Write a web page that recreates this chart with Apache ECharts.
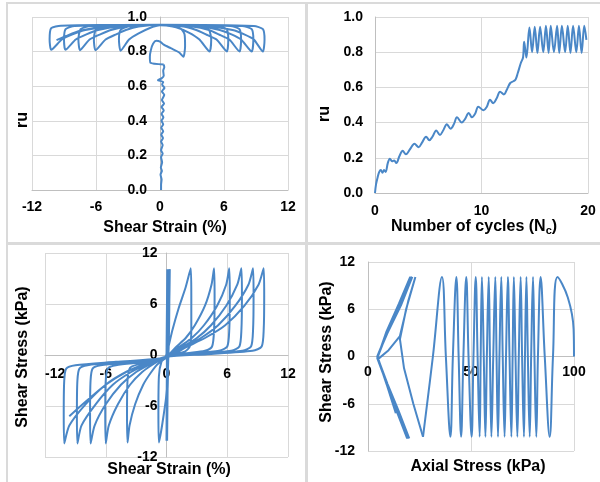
<!DOCTYPE html>
<html>
<head>
<meta charset="utf-8">
<script src="https://cdn.jsdelivr.net/npm/echarts@6/dist/echarts.min.js"></script>
<style>html,body{margin:0;padding:0;background:#fff;}#c{width:600px;height:482px;}</style>
</head>
<body>
<div id="c"></div>
<script>
// ---------- tick labels ----------
const ruTicks = ['0.0','0.2','0.4','0.6','0.8','1.0'];
const strainTicks = ['-12','-6','0','6','12'];
const stressTicks = ['-12','-6','0','6','12'];
const cycleTicks = ['0','10','20'];
const axialTicks = ['0','50','100'];

// ---------- panel 1: ru vs shear strain (%) ----------
const ruStrainStem = [
 [0.1,0],[0.1,0.03],[0.15,0.06],[0.05,0.09],[0.18,0.11],[0.08,0.13],[0.2,0.16],[0.1,0.19],
 [0.25,0.21],[0.1,0.23],[0.25,0.26],[0.1,0.28],[0.28,0.30],[0.12,0.32],[0.3,0.34],[0.12,0.36],
 [0.3,0.38],[0.14,0.40],[0.32,0.42],[0.15,0.44],[0.35,0.46],[0.15,0.48],[0.38,0.50],[0.18,0.52],
 [0.4,0.55],[0.18,0.57],[0.42,0.59],[0.2,0.61],[0.3,0.625],[-0.2,0.635],[0.15,0.645],[0.35,0.66],
 [0.3,0.69],[0.4,0.71],[0.35,0.725]
];
const ruStrainLiq = [
 [0.35,0.725],[-0.9,0.735],[-0.95,0.77],[-0.85,0.81],[-0.65,0.845],[-0.35,0.862],[0.0,0.858],
 [0.35,0.84],[1.0,0.82],[1.8,0.795],[2.2,0.77],
 [2.35,0.83],[2.3,0.9],[2.0,0.93],[1.2,0.945],[0,0.952],[-1.0,0.935],[-2.0,0.905],[-2.9,0.87],[-3.7,0.805],
 [-3.85,0.87],[-3.7,0.925],[-3.0,0.945],[0,0.955],[1.5,0.94],[2.7,0.91],[3.7,0.87],[4.65,0.80],
 [4.8,0.87],[4.6,0.925],[3.8,0.947],[0,0.955],[-2,0.945],[-3.2,0.925],[-4.1,0.9],[-5.1,0.87],[-6.05,0.808],
 [-6.2,0.87],[-6.0,0.93],[-5.0,0.948],[0,0.955],[2.2,0.945],[3.4,0.925],[4.3,0.9],[5.3,0.87],[6.27,0.80],
 [6.4,0.87],[6.25,0.93],[5.4,0.948],[0,0.955],[-3,0.945],[-4.6,0.925],[-5.6,0.9],[-6.6,0.87],[-7.5,0.808],
 [-7.65,0.87],[-7.45,0.93],[-6.5,0.948],[0,0.955],[3,0.945],[4.6,0.925],[5.5,0.9],[6.5,0.87],[7.46,0.80],
 [7.6,0.87],[7.45,0.93],[6.6,0.948],[0,0.955],[-3.8,0.945],[-5.8,0.925],[-6.9,0.9],[-7.9,0.87],[-8.87,0.81],
 [-9.0,0.87],[-8.85,0.93],[-8.0,0.948],[0,0.955],[3.8,0.945],[5.6,0.925],[6.7,0.9],[7.6,0.87],[8.6,0.80],
 [8.75,0.87],[8.6,0.93],[7.7,0.948],[0,0.955],[-4.5,0.945],[-7,0.925],[-8.2,0.9],[-9.2,0.87],[-10.2,0.81],
 [-10.35,0.87],[-10.2,0.935],[-9.3,0.95],[0,0.955],[4.5,0.945],[6.8,0.925],[7.9,0.9],[8.8,0.87],[9.65,0.80],
 [9.8,0.87],[9.65,0.93],[8.8,0.948],[0,0.955],[-5,0.945],[-7.5,0.92],[-8.8,0.89],[-9.7,0.866]
];

// ---------- panel 2: ru vs number of cycles ----------
const ruCycles = [
 [0,0],[0.1,0.05],[0.25,0.09],[0.4,0.12],[0.55,0.13],[0.7,0.115],[0.85,0.13],[1.0,0.12],[1.2,0.17],
 [1.4,0.195],[1.6,0.18],[1.8,0.185],[2.0,0.17],[2.3,0.21],[2.6,0.24],[2.9,0.22],[3.3,0.25],[3.7,0.28],
 [4.1,0.26],[4.4,0.285],[4.8,0.32],[5.1,0.30],[5.4,0.32],[5.75,0.355],[6.1,0.33],[6.4,0.355],[6.75,0.39],
 [7.1,0.365],[7.4,0.39],[7.7,0.43],[8.15,0.40],[8.45,0.42],[8.8,0.455],[9.1,0.43],[9.4,0.45],[9.7,0.49],
 [10.2,0.47],[10.5,0.49],[10.8,0.53],[11.1,0.51],[11.4,0.535],[11.75,0.575],[12.1,0.56],[12.4,0.59],
 [12.7,0.625],[13.0,0.635],[13.2,0.645],[13.4,0.68],[13.7,0.74],[13.9,0.77],[14.0,0.86],[14.1,0.82],
 [14.22,0.77],[14.5,0.94],[14.75,0.80],[15.0,0.945],[15.25,0.795],[15.5,0.945],[15.8,0.80],[16.05,0.95],
 [16.3,0.795],[16.5,0.95],[16.8,0.80],[17.1,0.95],[17.3,0.795],[17.55,0.95],[17.85,0.80],[18.1,0.95],
 [18.35,0.795],[18.6,0.95],[18.9,0.80],[19.15,0.95],[19.4,0.795],[19.65,0.95],[19.85,0.87]
];

// ---------- panel 3: shear stress (kPa) vs shear strain (%) ----------
const stressStrainPre = [
 [0,0],[0.08,10.1],[0,-10.1],[0.1,10.1],[0,-10.1],[0.1,10.1],[0.02,-10.1],[0.12,10.1],[0.02,-10.1],
 [0.12,10.1],[0.03,-10.1],[0.14,10.1],[0.03,-10.1],[0.14,10.1],[0.04,-10.1],[0.15,10.1],[0.04,-10.1],
 [0.16,10.1],[0.05,-10.1],[0.17,10.1],[0.05,-10.1],[0.18,10.1],[0.06,-10.1],[0.2,10.1],[0.06,-10.1],
 [0.22,10.1],[0.05,-10.1],[0.25,10.1],[0.0,-10.1],[0.3,10.1]
];
const stressStrainLiq = [
 [0.3,10.1],[0.25,3],[0.05,-4],[-0.4,-8],[-0.75,-10.3],[-0.8,-7],[-0.75,-2.5],[-0.5,-0.8],[0,0],
 [0.2,1],[0.6,3],[1.2,5.5],[1.9,8],[2.4,10.2],
 [2.45,7],[2.45,3],[2.3,1],[1.8,0.4],[0.5,0],[-0.8,-1],[-1.5,-2],[-2.3,-3.5],[-3.1,-5.8],[-3.65,-8.3],[-3.85,-10.3],
 [-3.9,-7],[-3.85,-3],[-3.6,-1.5],[-2.8,-1.1],[-1,-0.6],[0,-0.2],
 [0.9,0.9],[1.9,2],[2.8,3.5],[3.8,5.8],[4.45,8.3],[4.7,10.2],
 [4.75,7],[4.7,3],[4.5,1],[3.8,0.5],[2,0.2],[0,-0.2],
 [-1.2,-1],[-2.4,-2],[-3.6,-3.5],[-4.8,-5.8],[-5.7,-8.3],[-6.0,-10.4],
 [-6.05,-7],[-6.0,-3],[-5.8,-1.6],[-5,-1.2],[-2,-0.8],[0,-0.3],
 [1.2,0.9],[2.5,2],[3.7,3.5],[5.0,5.8],[5.9,8.3],[6.2,10.2],
 [6.25,7],[6.2,3],[6.0,1],[5.2,0.5],[2,0.1],[0,-0.2],
 [-1.5,-1],[-3,-2],[-4.5,-3.5],[-6,-5.8],[-7.1,-8.3],[-7.5,-10.4],
 [-7.55,-7],[-7.5,-3],[-7.3,-1.6],[-6.5,-1.2],[-3,-0.8],[0,-0.3],
 [1.5,0.9],[3,2],[4.4,3.5],[5.9,5.8],[7.0,8.3],[7.4,10.2],
 [7.45,7],[7.4,3],[7.2,1],[6.4,0.5],[3,0.1],[0,-0.2],
 [-1.8,-1],[-3.5,-2],[-5.3,-3.5],[-7,-5.8],[-8.4,-8.3],[-8.8,-10.4],
 [-8.85,-7],[-8.8,-3],[-8.6,-1.6],[-7.8,-1.2],[-4,-0.8],[0,-0.3],
 [1.7,0.9],[3.4,2],[5.1,3.5],[6.8,5.8],[8.1,8.3],[8.55,10.2],
 [8.6,7],[8.55,3],[8.35,1],[7.5,0.5],[3.5,0.1],[0,-0.2],
 [-2,-1],[-4,-2],[-6,-3.5],[-8,-5.8],[-9.6,-8.3],[-10.1,-10.4],
 [-10.15,-7],[-10.1,-3],[-9.9,-1.6],[-9,-1.2],[-5,-0.8],[0,-0.3],
 [1.9,0.9],[3.8,2],[5.8,3.5],[7.7,5.8],[9.1,8.3],[9.6,10.2],
 [9.65,7],[9.6,3],[9.4,1],[8.5,0.5],[4,0.1],[0,-0.2],
 [-2,-1],[-4,-2],[-6,-3.5],[-8,-5.5],[-9.6,-7.2]
];

// ---------- panel 4: shear stress (kPa) vs axial stress (kPa) ----------
const stressAxialPre = [
 [100,0],[99.8,3.5],[97,7.5],[92,10.1],[89.8,0],[88.2,-10.2],[85.8,0],[83.8,10.1],[82.5,0],[81.7,-10.2],
 [80.8,0],[80.1,10.1],[79.2,0],[78.5,-10.2],[77.6,0],[76.9,10.1],[76.2,0],[75.7,-10.2],[74.8,0],[74.1,10.1],
 [73.2,0],[72.5,-10.2],[71.6,0],[70.8,10.1],[70.2,0],[69.6,-10.2],[68.7,0],[67.9,10.1],[67,0],[66.3,-10.2],
 [65.4,0],[64.7,10.1],[63.8,0],[63.1,-10.2],[62.4,0],[61.8,10.1],[60.8,0],[59.9,-10.2],[59.2,0],[58.6,10.1],
 [57.7,0],[57,-10.2],[56.2,0],[55.3,10.1],[54.7,0],[54.2,-10.2],[53.2,0],[52.3,10.1],[51.2,0],[50.3,-10.2],
 [48.8,0],[47.7,10.1],[46.3,0],[45.2,-10.2],[44,0],[42.9,10.1],[41.2,0],[40,-10.2],[37.8,0],[35.9,10.1],
 [31.5,0],[26.7,-10.2]
];
const stressAxialLiq = [
 [26.7,-10.2],[22,-6],[17.5,-1.5],[15.5,2.2],[18.5,6],[23,10.1],
 [19.5,7],[15.5,2.6],[10,0.8],[5,-0.3],[9,-3.5],[14.5,-7],[19.5,-10.4],
 [14,-6.8],[9,-3.2],[4.5,-0.2],[9,3.2],[15,6.7],[20.5,10.1],
 [15,6.3],[9,2.8],[4.5,0],[9,-3.5],[14.5,-7.2],[19,-10.4],
 [14,-7],[9,-3.3],[4.5,-0.2],[9.5,3.3],[15.5,6.9],[21,10.1],
 [15.5,6.5],[9,2.9],[4.5,0],[9.5,-3.5],[15,-7.2],[19.5,-10.4],
 [14,-7],[9,-3.4],[4.5,-0.2],[9.5,3.2],[16,7],[21.5,10.1],
 [15.5,6.5],[9,2.9],[4.5,0],[9.5,-3.5],[15,-7],[20,-10.4],
 [14.5,-7],[9,-3.4],[4.5,-0.2],[9.5,3.3],[15.5,6.9],[21,10.1],
 [15.5,6.4],[9,2.8],[4.5,0],[9,-3.5],[14.5,-7.3],[19,-10.4],
 [14,-7],[9,-3.3],[4.5,-0.2],[10,3.5],[16,7.2],[21.5,10.1],
 [16,6.5],[9.5,3],[4.5,0],[9,-3.5],[13.5,-7.2]
];

// ---------- chart ----------
const FONT = '"Liberation Sans", Arial, Helvetica, sans-serif';
const BLUE = '#4a87c7';
const GRID_C = '#d9d9d9';
const AXIS_C = '#bfbfbf';

function lbl(margin, ticks, extra) {
  return Object.assign({
    show: true, color: '#000', fontSize: 14, fontWeight: 'bold', fontFamily: FONT,
    margin: margin, showMinLabel: true, showMaxLabel: true,
    formatter: (v, i) => ticks[i]
  }, extra || {});
}
// offset moves an axis line (and its labels) to where the other axis is zero
function ax(gi, min, max, interval, margin, ticks, offset, extra) {
  return {
    gridIndex: gi, type: 'value', min: min, max: max, interval: interval, offset: offset,
    axisLine: { show: true, onZero: false, lineStyle: { color: AXIS_C, width: 1 } },
    axisTick: { show: false },
    splitLine: { show: true, lineStyle: { color: GRID_C, width: 1 } },
    axisLabel: lbl(margin, ticks, extra)
  };
}
function ser(xi, data, smooth) {
  return {
    type: 'line', xAxisIndex: xi, yAxisIndex: xi, data: data, symbol: 'none', showSymbol: false,
    smooth: smooth, lineStyle: { color: BLUE, width: 2 }, itemStyle: { color: BLUE },
    animation: false, silent: true
  };
}
function title(x, y, text, rot) {
  return {
    type: 'text', x: x, y: y, rotation: rot || 0, z: 10,
    style: { text: text, fill: '#000', fontSize: 16, fontWeight: 'bold', fontFamily: FONT,
             align: 'center', verticalAlign: 'middle' }
  };
}
function rect(x, y, w, h) {
  return { type: 'rect', shape: { x: x, y: y, width: w, height: h }, style: { fill: '#dadada' }, z: 0 };
}

const G = [
  { left: 32, top: 17, width: 256, height: 173 },
  { left: 375, top: 17, width: 213, height: 176 },
  { left: 45, top: 253, width: 243, height: 204 },
  { left: 368, top: 262, width: 206, height: 189 }
];

const chart = echarts.init(document.getElementById('c'), null, { renderer: 'canvas', width: 600, height: 482 });
chart.setOption({
  animation: false,
  backgroundColor: '#fff',
  grid: G,
  xAxis: [
    ax(0, -12, 12, 6, 10, strainTicks, 0),
    ax(1, 0, 20, 10, 11, cycleTicks, 0),
    ax(2, -12, 12, 6, 12, strainTicks, -G[2].height / 2, { alignMinLabel: 'left' }),
    ax(3, 0, 100, 50, 9, axialTicks, -G[3].height / 2)
  ],
  yAxis: [
    ax(0, 0, 1, 0.2, 13, ruTicks, -G[0].width / 2),
    ax(1, 0, 1, 0.2, 12, ruTicks, 0),
    ax(2, -12, 12, 6, 9, stressTicks, -G[2].width / 2),
    ax(3, -12, 12, 6, 13, stressTicks, 0)
  ],
  series: [
    ser(0, ruStrainStem, 0.2),
    ser(0, ruStrainLiq, 0.2),
    ser(1, ruCycles, 0.35),
    ser(2, stressStrainPre, false),
    ser(2, stressStrainLiq, 0.25),
    ser(3, stressAxialPre, 0.4),
    ser(3, stressAxialLiq, false)
  ],
  graphic: [
    rect(7, 2, 593, 2),
    rect(6, 2, 2, 480),
    rect(305, 2, 3, 480),
    rect(7, 242, 593, 3),
    title(165, 228, 'Shear Strain (%)'),
    title(23, 120, 'ru', Math.PI / 2),
    {
      type: 'text', x: 474, y: 227, z: 10,
      style: {
        text: '{a|Number of cycles (N}{b|c}{a|)}',
        align: 'center', verticalAlign: 'middle',
        rich: {
          a: { fill: '#000', fontSize: 16, fontWeight: 'bold', fontFamily: FONT, lineHeight: 18 },
          b: { fill: '#000', fontSize: 11, fontWeight: 'bold', fontFamily: FONT, lineHeight: 18, padding: [7, 0, 0, 0] }
        }
      }
    },
    title(325, 114, 'ru', Math.PI / 2),
    title(169, 470, 'Shear Strain (%)'),
    title(23, 357, 'Shear Stress (kPa)', Math.PI / 2),
    title(478, 467, 'Axial Stress (kPa)'),
    title(327, 352, 'Shear Stress (kPa)', Math.PI / 2)
  ]
});
</script>
</body>
</html>
